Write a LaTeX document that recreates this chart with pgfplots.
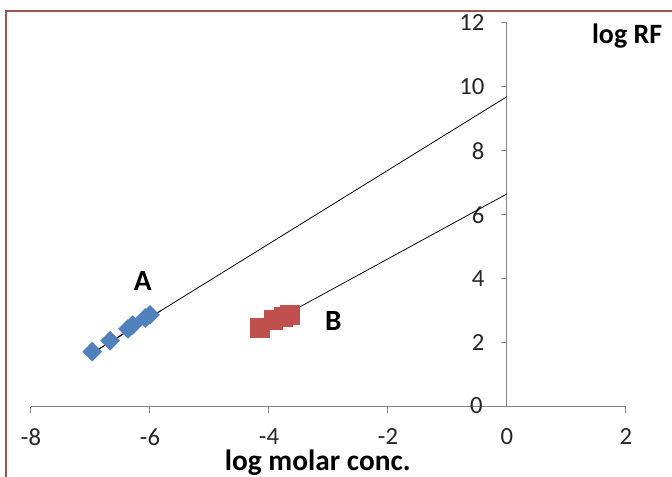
\documentclass[border=0pt]{standalone}
\usepackage{fontspec}
\setmainfont{Carlito}
\usepackage{pgfplots}
\pgfplotsset{compat=1.18}
\definecolor{ablue}{HTML}{4F81BD}
\definecolor{bred}{HTML}{C0504D}
\definecolor{axgray}{HTML}{868686}
\definecolor{framered}{HTML}{A0524F}

\begin{document}
\begin{tikzpicture}[x=0.75pt,y=0.75pt]
  % page = 672 x 477 px, axis box starts at px (31,407)
  \path[use as bounding box] (-31,-70) rectangle (641,407);
  \draw[framered, line width=1.5pt] (-25,-70) -- (-25,396) -- (641,396);
  \begin{axis}[
    at={(0,0)}, anchor=south west,
    scale only axis,
    width=446.25pt, height=288pt,
    xmin=-8, xmax=2, ymin=0, ymax=12,
    axis lines=middle,
    axis line style={-, axgray, line width=0.75pt},
    xtick={-8,-6,-4,-2,0,2},
    ytick={0,2,4,6,8,10,12},
    tick align=outside,
    major tick length=4.5pt,
    tick style={axgray, line width=0.75pt},
    tick label style={font=\fontsize{18.5}{21}\selectfont, text=black!85},
    /pgf/number format/assume math mode=true,
    xticklabel style={yshift=-8pt},
    yticklabel style={xshift=-9pt},
    clip=false,
  ]
    % trend lines
    \addplot[black, line width=0.6pt] coordinates {(-7,1.65) (0,9.7)};
    \addplot[black, line width=0.6pt] coordinates {(-4.15,2.45) (0,6.66)};
    % series A
    \addplot[only marks, mark=square*, mark size=5pt,
      mark options={ablue, rotate=45}] coordinates {
      (-6.97,1.73) (-6.67,2.07) (-6.37,2.44) (-6.29,2.56) (-6.08,2.78) (-6.0,2.88)};
    % series B
    \addplot[only marks, mark=square*, mark size=7pt,
      mark options={bred}] coordinates {
      (-4.15,2.47) (-3.93,2.72) (-3.76,2.81) (-3.65,2.88)};
    % redraw line over markers
    \addplot[black, line width=0.6pt] coordinates {(-7,1.65) (-5.8,3.03)};
    \addplot[black, line width=0.6pt] coordinates {(-4.15,2.45) (-3.5,3.11)};
    % origin tick labels (hidden by the middle axes)
    \node[font=\fontsize{18.5}{21}\selectfont, text=black!85] at (axis cs:0,0) [yshift=-22.5pt] {0};
    \node[font=\fontsize{18.5}{21}\selectfont, text=black!85] at (axis cs:0,0) [xshift=-23pt, yshift=1pt] {0};
    \node[font=\fontsize{22}{25}\selectfont\bfseries] at (axis cs:-6.12,3.94) {A};
    \node[font=\fontsize{22}{25}\selectfont\bfseries] at (axis cs:-2.92,2.69) {B};
    \node[font=\fontsize{21}{24}\selectfont\bfseries] at (axis cs:2.02,11.58) {log RF};
    \node[font=\fontsize{22}{26}\selectfont\bfseries] at (axis cs:-3.18,-1.75) {log molar conc.};
  \end{axis}
\end{tikzpicture}
\end{document}
